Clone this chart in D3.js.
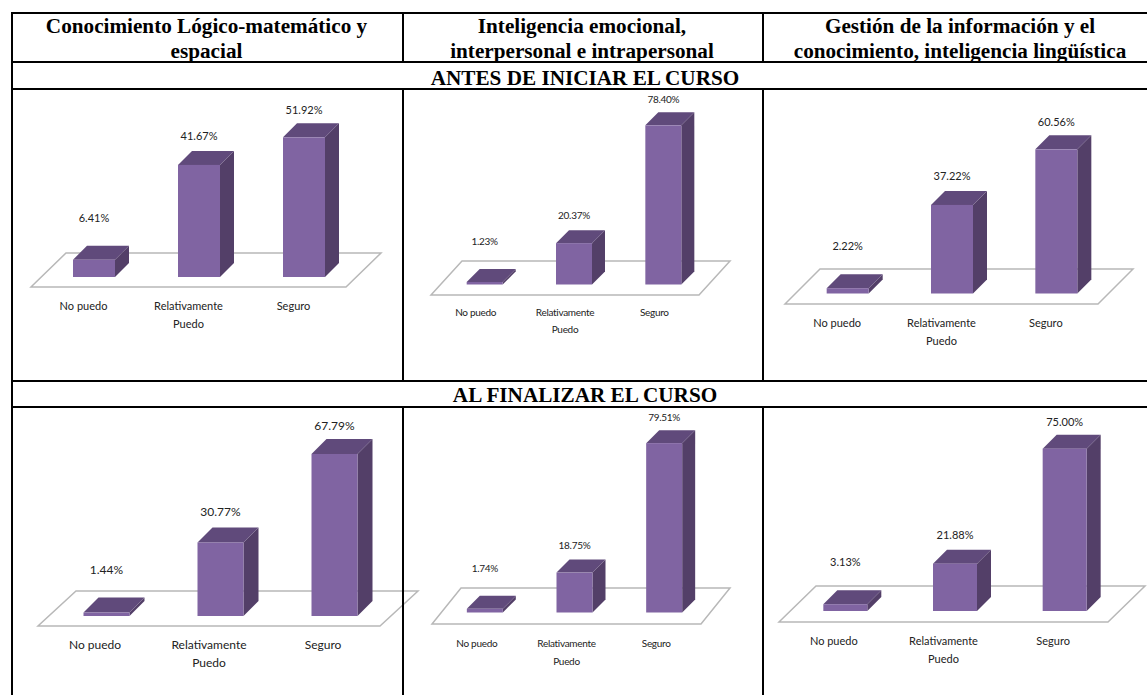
<!DOCTYPE html>
<html>
<head>
<meta charset="utf-8">
<script src="https://cdn.jsdelivr.net/npm/d3@7"></script>
<style>
  html, body { margin: 0; padding: 0; background: #fff; }
  svg { display: block; }
  .head { font-family: "Liberation Serif", serif; font-weight: bold; font-size: 21.2px; fill: #000; text-anchor: middle; }
  .lbl { font-family: Lato, sans-serif; font-size: 11px; fill: #222; text-anchor: middle; }
</style>
</head>
<body>
<svg id="chart"></svg>
<script>
let width = 1147;
let height = 695;

const categories = ['No puedo', 'Relativamente Puedo', 'Seguro'];

const logicoAntes = [6.41, 41.67, 51.92];
const emocionalAntes = [1.23, 20.37, 78.40];
const gestionAntes = [2.22, 37.22, 60.56];
const logicoFinal = [1.44, 30.77, 67.79];
const emocionalFinal = [1.74, 18.75, 79.51];
const gestionFinal = [3.13, 21.88, 75.00];

const columnTitles = [
  ['Conocimiento Lógico-matemático y', 'espacial'],
  ['Inteligencia emocional,', 'interpersonal e intrapersonal'],
  ['Gestión de la información y el', 'conocimiento, inteligencia lingüística']
];
const rowTitles = ['ANTES DE INICIAR EL CURSO', 'AL FINALIZAR EL CURSO'];

const COLORS = { front: '#8064A2', top: '#604A7B', side: '#533F68', floor: '#B8B8B8' };

// x,y = front left corner of the floor, w = floor width, dx/dy = floor depth
// barW/barD = bar size, k = pixels per percent, catGap = floor to category label
const panels = [
  { values: logicoAntes,    x: 31,  y: 287, w: 315, dx: 35, dy: 34, barW: 42, barD: 14, k: 2.69,  font: 11, spacing: 0,    catGap: 23, lineGap: 18 },
  { values: emocionalAntes, x: 431, y: 295, w: 268, dx: 31, dy: 34, barW: 36, barD: 13, k: 2.03,  font: 10, spacing: -0.3, catGap: 21, lineGap: 17 },
  { values: gestionAntes,   x: 785, y: 304, w: 313, dx: 35, dy: 35, barW: 42, barD: 14, k: 2.38,  font: 11, spacing: 0,    catGap: 23, lineGap: 18 },
  { values: logicoFinal,    x: 38,  y: 626, w: 342, dx: 38, dy: 35, barW: 46, barD: 15, k: 2.39,  font: 12, spacing: 0,    catGap: 23, lineGap: 18 },
  { values: emocionalFinal, x: 432, y: 624, w: 269, dx: 29, dy: 36, barW: 36, barD: 13, k: 2.13,  font: 10, spacing: -0.3, catGap: 23, lineGap: 18 },
  { values: gestionFinal,   x: 779, y: 622, w: 329, dx: 37, dy: 36, barW: 44, barD: 14, k: 2.165, font: 11, spacing: 0,    catGap: 23, lineGap: 18 }
];

// excel moved the value labels by hand, the small bars have a bigger gap
const labelGap = [28, 15, 13];

let svg = d3.select('#chart')
  .attr('width', width)
  .attr('height', height);

function drawTable() {
  const lines = [
    [11, 13, width, 13], [11, 62, width, 62], [11, 89, width, 89],
    [11, 381, width, 381], [11, 407, width, 407],
    [12, 13, 12, height],
    [403, 13, 403, 62], [403, 89, 403, 381], [403, 407, 403, height],
    [763, 13, 763, 62], [763, 89, 763, 381], [763, 407, 763, height]
  ];
  svg.append('g').selectAll('line')
    .data(lines)
    .enter()
    .append('line')
      .attr('x1', d => d[0])
      .attr('y1', d => d[1])
      .attr('x2', d => d[2])
      .attr('y2', d => d[3])
      .attr('stroke', '#000')
      .attr('stroke-width', 2);

  const centers = [206.5, 582, 960];
  columnTitles.forEach((t, i) => {
    t.forEach((line, j) => {
      svg.append('text').attr('class', 'head')
        .attr('x', centers[i])
        .attr('y', 33 + j * 25)
        .text(line);
    });
  });
  rowTitles.forEach((t, i) => {
    svg.append('text').attr('class', 'head')
      .attr('x', 585)
      .attr('y', [85, 402][i])
      .text(t);
  });
}

function drawPanel(p) {
  let g = svg.append('g');

  let x = d3.scaleBand()
    .domain(categories)
    .range([p.x, p.x + p.w]);

  // bars stand in the middle of the floor depth
  let offX = (p.dx - p.barD) / 2;
  let offY = (p.dy - p.barD) / 2;
  let base = p.y - offY;

  let y = d3.scaleLinear()
    .domain([0, 100])
    .range([base, base - 100 * p.k]);

  g.append('path')
    .attr('d', d3.line()([
      [p.x, p.y], [p.x + p.w, p.y], [p.x + p.w + p.dx, p.y - p.dy], [p.x + p.dx, p.y - p.dy]
    ]) + 'Z')
    .attr('fill', '#fff')
    .attr('stroke', COLORS.floor)
    .attr('stroke-width', 1.5);

  let bars = categories.map((c, i) => {
    let left = x(c) + (x.bandwidth() - p.barW) / 2 + offX;
    return { c, v: p.values[i], i, left, right: left + p.barW, top: y(p.values[i]) };
  });

  let bar = g.selectAll('g.bar')
    .data(bars)
    .enter()
    .append('g')
      .attr('class', 'bar');

  bar.append('path')
    .attr('fill', COLORS.side)
    .attr('d', d => d3.line()([
      [d.right, base], [d.right + p.barD, base - p.barD],
      [d.right + p.barD, d.top - p.barD], [d.right, d.top]
    ]) + 'Z');

  bar.append('path')
    .attr('fill', COLORS.top)
    .attr('d', d => d3.line()([
      [d.left, d.top], [d.right, d.top],
      [d.right + p.barD, d.top - p.barD], [d.left + p.barD, d.top - p.barD]
    ]) + 'Z');

  bar.append('rect')
    .attr('fill', COLORS.front)
    .attr('x', d => d.left)
    .attr('y', d => d.top)
    .attr('width', p.barW)
    .attr('height', d => base - d.top);

  bar.append('text')
    .attr('class', 'lbl')
    .style('font-size', p.font + 'px')
    .style('letter-spacing', p.spacing + 'px')
    .attr('x', d => (d.left + d.right) / 2)
    .attr('y', d => d.top - p.barD - labelGap[d.i] + 4)
    .text(d => d.v.toFixed(2) + '%');

  // category labels, the long one breaks in two lines
  g.selectAll('text.cat')
    .data(categories)
    .enter()
    .append('text')
      .attr('class', 'lbl cat')
      .style('font-size', p.font + 'px')
      .style('letter-spacing', p.spacing + 'px')
      .attr('y', p.y + p.catGap)
      .each(function(c) {
        let words = c === 'Relativamente Puedo' ? c.split(' ') : [c];
        d3.select(this).selectAll('tspan')
          .data(words)
          .enter()
          .append('tspan')
            .attr('x', x(c) + x.bandwidth() / 2)
            .attr('dy', (w, i) => i ? p.lineGap : 0)
            .text(w => w);
      });
}

panels.forEach(drawPanel);
drawTable();
</script>
</body>
</html>
